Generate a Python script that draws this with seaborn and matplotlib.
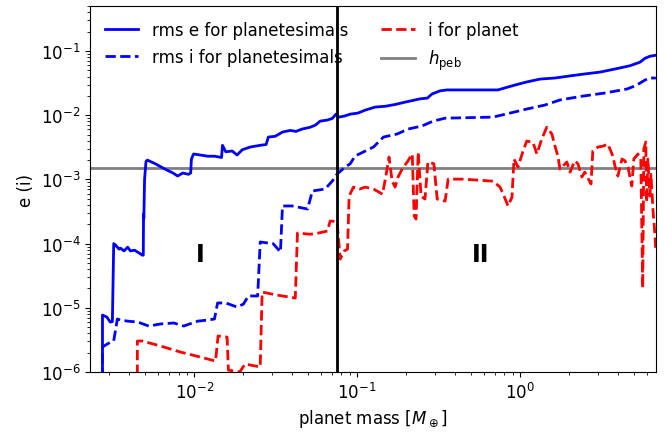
import matplotlib
matplotlib.use("Agg")
import matplotlib.pyplot as plt
import numpy as np
import pandas as pd
import seaborn as sns

# rms eccentricity of the planetesimals vs. planet mass
mass_e = [0.00273, 0.00273, 0.0029, 0.00305, 0.00314, 0.0032, 0.00327, 0.00345, 0.00352, 0.0037,
          0.0039, 0.00405, 0.0043, 0.0046, 0.0048, 0.00486, 0.00488, 0.0049, 0.00495, 0.00505,
          0.00515, 0.0058, 0.0066, 0.0074, 0.0079, 0.0085, 0.0092, 0.0095, 0.0096, 0.0099,
          0.0109, 0.0121, 0.0133, 0.0147, 0.0149, 0.0156, 0.0171, 0.0183, 0.0197, 0.0221,
          0.0254, 0.0276, 0.0285, 0.0314, 0.0348, 0.0388, 0.0421, 0.046, 0.0515, 0.0553,
          0.0593, 0.0654, 0.0703, 0.0741, 0.0765, 0.0834, 0.0906, 0.101, 0.112, 0.129,
          0.149, 0.171, 0.197, 0.243, 0.27, 0.288, 0.323, 0.357, 0.733, 0.809,
          0.93, 1.10, 1.33, 1.64, 2.03, 2.5, 3.1, 3.83, 4.73, 5.45,
          5.85, 6.28, 6.83]
rms_e = [8e-7, 7.7e-6, 7.2e-6, 6.0e-6, 6.1e-6, 1.0e-4, 9.6e-5, 8.2e-5, 8.5e-5, 7.7e-5,
         8.8e-5, 7.7e-5, 7.9e-5, 7.1e-5, 6.6e-5, 6.6e-5, 2.9e-4, 2.5e-4, 1.0e-3, 1.9e-3,
         2.0e-3, 1.74e-3, 1.45e-3, 1.26e-3, 1.13e-3, 1.26e-3, 1.2e-3, 1.26e-3, 2.08e-3, 2.49e-3,
         2.4e-3, 2.3e-3, 2.3e-3, 2.2e-3, 3.4e-3, 2.7e-3, 2.77e-3, 2.4e-3, 2.9e-3, 3.2e-3,
         3.4e-3, 3.5e-3, 4.57e-3, 4.7e-3, 5.47e-3, 5.8e-3, 5.6e-3, 6.1e-3, 6.5e-3, 7.0e-3,
         8.1e-3, 8.4e-3, 8.9e-3, 1.04e-2, 9.3e-3, 9.7e-3, 1.04e-2, 1.08e-2, 1.2e-2, 1.34e-2,
         1.38e-2, 1.47e-2, 1.6e-2, 1.8e-2, 1.85e-2, 2.14e-2, 2.4e-2, 2.48e-2, 2.48e-2, 2.67e-2,
         2.95e-2, 3.3e-2, 3.66e-2, 3.8e-2, 4.1e-2, 4.4e-2, 4.7e-2, 5.25e-2, 5.9e-2, 6.7e-2,
         7.7e-2, 8.3e-2, 8.6e-2]

# rms inclination of the planetesimals
mass_i = [0.00273, 0.00273, 0.0029, 0.00305, 0.0032, 0.00337, 0.00352, 0.0039, 0.0045, 0.00525,
          0.0062, 0.0075, 0.0086, 0.0105, 0.0121, 0.0133, 0.0139, 0.0156, 0.0183, 0.020,
          0.0215, 0.0245, 0.0254, 0.0305, 0.0338, 0.0348, 0.040, 0.0496, 0.0531, 0.0636,
          0.0703, 0.0753, 0.0845, 0.0906, 0.097, 0.109, 0.126, 0.145, 0.176, 0.206,
          0.25, 0.293, 0.347, 0.683, 0.868, 1.10, 1.42, 1.76, 2.44, 3.32,
          4.53, 5.15, 5.85, 6.28, 6.83]
rms_i = [8e-7, 2.45e-6, 2.7e-6, 2.9e-6, 3.05e-6, 6.7e-6, 6.45e-6, 6.2e-6, 6.0e-6, 5.2e-6,
         5.6e-6, 5.8e-6, 5.2e-6, 6.2e-6, 6.45e-6, 6.7e-6, 1.19e-5, 1.19e-5, 1.03e-5, 1.14e-5,
         1.53e-5, 1.53e-5, 1.06e-4, 1.0e-4, 7.4e-5, 3.86e-4, 3.86e-4, 3.46e-4, 6.6e-4, 7.1e-4,
         9.4e-4, 1.21e-3, 1.56e-3, 1.75e-3, 2.31e-3, 2.67e-3, 3.2e-3, 4.57e-3, 5.1e-3, 6.1e-3,
         6.8e-3, 8.1e-3, 9.0e-3, 9.35e-3, 1.08e-2, 1.25e-2, 1.44e-2, 1.73e-2, 1.99e-2, 2.22e-2,
         2.56e-2, 2.9e-2, 3.53e-2, 3.8e-2, 3.8e-2]

# inclination of the planet itself
mass_p = [0.00447, 0.00447, 0.0048, 0.0062, 0.0082, 0.0109, 0.0135, 0.0140, 0.0159, 0.0162,
          0.019, 0.0205, 0.0254, 0.0261, 0.0322, 0.0417, 0.043, 0.0515, 0.0577, 0.0657,
          0.0683, 0.0753, 0.0787, 0.0834, 0.0873, 0.0893, 0.0949, 0.104, 0.112, 0.126,
          0.143, 0.149, 0.157, 0.164, 0.171, 0.178, 0.189, 0.203, 0.218, 0.224,
          0.23, 0.237, 0.247, 0.261, 0.272, 0.296, 0.31, 0.347, 0.362, 0.447,
          0.683, 0.754, 0.798, 0.844, 0.893, 0.919, 0.972, 1.03, 1.10, 1.20,
          1.27, 1.36, 1.46, 1.57, 1.64, 1.71, 1.76, 1.94, 2.03, 2.17,
          2.27, 2.4, 2.5, 2.73, 2.8, 3.01, 3.23, 3.46, 3.72, 3.83,
          3.99, 4.23, 4.41, 4.6, 4.86, 5.0, 5.3, 5.52, 5.67, 5.76,
          5.92, 6.0, 6.1, 6.28, 6.37, 6.57, 6.75, 6.83]
inc_p = [9e-7, 3.04e-6, 3.04e-6, 2.54e-6, 2.05e-6, 1.71e-6, 1.48e-6, 3.64e-6, 3.5e-6, 1.07e-6,
         1.0e-6, 1.33e-6, 1.2e-6, 1.76e-5, 1.58e-5, 1.42e-5, 1.46e-4, 1.4e-4, 1.46e-4, 1.57e-4,
         2.25e-4, 2.2e-4, 5.75e-5, 7.7e-5, 8.2e-5, 5.5e-4, 7.6e-4, 7.1e-4, 7.6e-4, 7.1e-4,
         5.9e-4, 1.01e-3, 2.23e-3, 9.4e-4, 7.6e-4, 1.08e-3, 1.45e-3, 1.87e-3, 2.49e-3, 2.69e-4,
         2.42e-4, 2.67e-3, 5.5e-4, 4.95e-4, 1.87e-3, 1.75e-3, 4.95e-4, 4.6e-4, 1.01e-3, 1.01e-3,
         9.4e-4, 7.6e-4, 5.5e-4, 3.86e-4, 5.3e-4, 2.08e-3, 1.56e-3, 2.49e-3, 3.96e-3, 3.8e-3,
         2.49e-3, 4.26e-3, 6.5e-3, 5.1e-3, 3.3e-3, 2.3e-3, 1.45e-3, 1.87e-3, 1.3e-3, 1.95e-3,
         1.75e-3, 1.09e-3, 1.3e-3, 8.5e-4, 2.77e-3, 3.2e-3, 3.3e-3, 3.56e-3, 2.31e-3, 1.62e-3,
         1.13e-3, 2.08e-3, 1.95e-3, 1.56e-3, 7.9e-4, 2.08e-3, 2.49e-3, 2.08e-3, 2.03e-5, 2.98e-3,
         3.83e-3, 4.45e-4, 2.08e-3, 5.5e-4, 1.2e-3, 3.1e-4, 1.31e-4, 7.4e-5]

h_peb = 1.5e-3          # pebble scale height
m_transition = 0.075    # boundary between regime I and II
regime_labels = ["I", "II"]
regime_mass = [0.0109, 0.575]
regime_y = 7e-5

plt.rcParams["font.size"] = 12

df_e = pd.DataFrame({"mass": mass_e, "val": rms_e})
df_i = pd.DataFrame({"mass": mass_i, "val": rms_i})
df_p = pd.DataFrame({"mass": mass_p, "val": inc_p})

fig = plt.figure(figsize=(6.72, 4.35), dpi=100)
ax = fig.add_axes([0.134, 0.1425, 0.842, 0.841])

sns.lineplot(data=df_e, x="mass", y="val", ax=ax, color="blue", lw=2,
             estimator=None, sort=False, label="rms e for planetesimals")
sns.lineplot(data=df_i, x="mass", y="val", ax=ax, color="blue", lw=2, linestyle="--",
             estimator=None, sort=False, label="rms i for planetesimals")
sns.lineplot(data=df_p, x="mass", y="val", ax=ax, color="red", lw=2, linestyle="--",
             estimator=None, sort=False, label="i for planet")
ax.axhline(h_peb, color="gray", lw=2, label=r"$h_{\rm peb}$", zorder=1.5)
ax.axvline(m_transition, color="black", lw=2)

for lab, mx in zip(regime_labels, regime_mass):
    ax.text(mx, regime_y, lab, fontsize=17, fontweight="bold", ha="center", va="center")

ax.set_xscale("log")
ax.set_yscale("log")
ax.set_xlim(0.00229, 6.83)
ax.set_ylim(1e-6, 0.5)
ax.set_xlabel(r"planet mass [$M_\oplus$]")
ax.set_ylabel("e (i)")
ax.legend(ncol=2, loc="upper left", frameon=False)

fig.savefig("out.png", dpi=100)
